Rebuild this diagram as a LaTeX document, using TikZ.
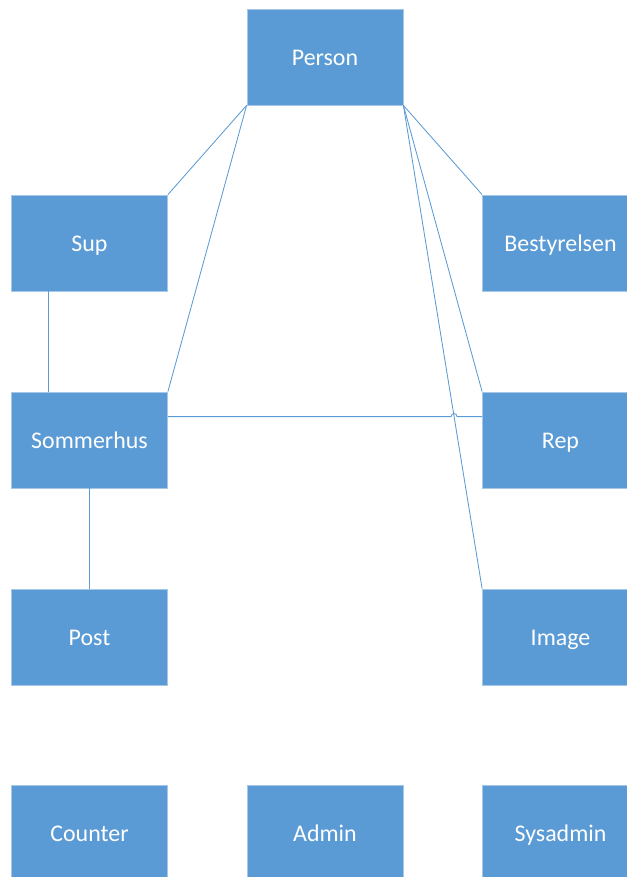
\documentclass[tikz,border=0pt]{standalone}
\usepackage{fontspec}
\setmainfont{Carlito}
\usetikzlibrary{calc}
\definecolor{boxblue}{HTML}{5B9BD5}
\definecolor{edgeblue}{HTML}{A7C7E8}
\definecolor{linkblue}{HTML}{5B9BD5}
\begin{document}
\begin{tikzpicture}[x=1bp,y=-1bp,
  entity/.style={rectangle, fill=boxblue, draw=edgeblue, line width=0.8bp,
    minimum width=156bp, minimum height=96bp, inner sep=0pt,
    text height=20bp, text depth=4bp,
    text=white, font=\fontsize{24}{28}\selectfont},
  link/.style={draw=linkblue, line width=0.85bp}]
  \useasboundingbox (0,0) rectangle (627,877);
  \clip (0,0) rectangle (627,877);

  % entities
  \node[entity] (per) at (325,57)    {Person};
  \node[entity] (sup) at (89.5,243)  {Sup};
  \node[entity] (bes) at (560.5,243) {Bestyrelsen};
  \node[entity] (som) at (89.5,440)  {Sommerhus};
  \node[entity] (rep) at (560.5,440) {Rep};
  \node[entity] (pst) at (89.5,637)  {Post};
  \node[entity] (img) at (560.5,637) {Image};
  \node[entity] (cnt) at (89.5,833)  {Counter};
  \node[entity] (adm) at (325,833)   {Admin};
  \node[entity] (sys) at (560.5,833) {Sysadmin};

  % relations from Person
  \draw[link] (per.south west) -- (sup.north east);
  \draw[link] (per.south west) -- (som.north east);
  \draw[link] (per.south east) -- (bes.north west);
  \draw[link] (per.south east) -- (rep.north west);
  \draw[link] (per.south east) -- (img.north west);

  % Sup -- Sommerhus and Sommerhus -- Post
  \draw[link] ([xshift=37bp]sup.south west) -- ([xshift=37bp]som.north west);
  \draw[link] (som.south) -- (pst.north);

  % Sommerhus -- Rep, hopping over the Person -- Image line
  \coordinate (hl) at ($(som.north east)+(0,25)$);
  \coordinate (hr) at ($(rep.north west)+(0,25)$);
  \coordinate (cx) at (intersection of per.south east--img.north west and hl--hr);
  \draw[link] (hl) -- ($(cx)+(-3,0)$)
    .. controls ($(cx)+(-3,-4)$) and ($(cx)+(3,-4)$) .. ($(cx)+(3,0)$)
    -- (hr);
\end{tikzpicture}
\end{document}
